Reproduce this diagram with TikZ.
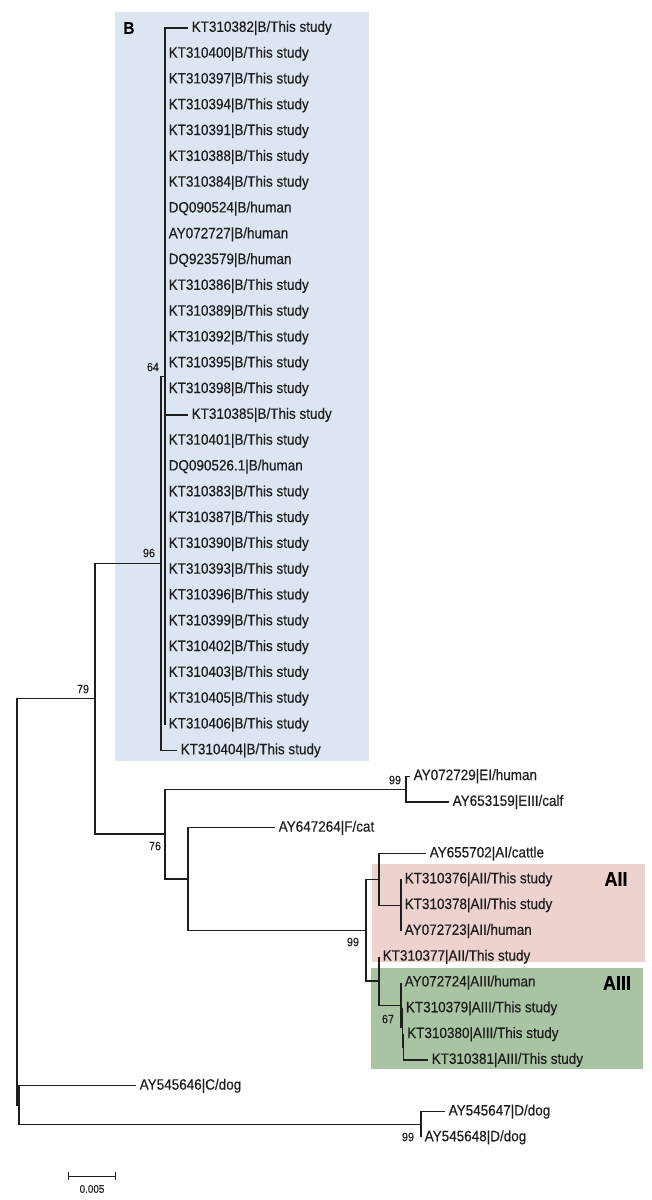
\documentclass[tikz,border=0pt]{standalone}
\usepackage{fontspec}
\setmainfont[FakeStretch=0.9,FakeBold=0.3]{Liberation Sans}
\definecolor{treeline}{HTML}{1E1E1E}
\definecolor{cladeB}{HTML}{DCE6F2}
\definecolor{cladeAII}{HTML}{EDD2CD}
\definecolor{cladeAIII}{HTML}{A9C4A3}

\begin{document}
\begin{tikzpicture}[x=1pt,y=-1pt]
    \tikzstyle{branch}=[draw=treeline,line width=1.1pt]
    \tikzstyle{leaf}=[anchor=west,inner xsep=3.5pt,inner ysep=0pt,text=treeline,font=\fontsize{15}{15}\selectfont]
    \tikzstyle{boot}=[inner sep=0pt,text=treeline,font=\fontsize{12}{12}\selectfont]
    \tikzstyle{clade}=[inner sep=0pt,text=black,font=\fontsize{20}{20}\selectfont\bfseries]

    \useasboundingbox[fill=white] (0,0) rectangle (651,1200);

    % shaded clades
    \fill[cladeB] (115,12) rectangle (369,761);
    \fill[cladeAII] (372,864) rectangle (645,962);
    \fill[cladeAIII] (371,968) rectangle (643,1069);
    \node[clade,font=\fontsize{17}{17}\selectfont\bfseries] (labB) at (129,28) {B};
    \node[clade] (labAII) at (616,879) {AII};
    \node[clade] (labAIII) at (617,983) {AIII};

    % internal nodes
    \coordinate (root) at (17,902);
    \coordinate (n79) at (95,698.7);
    \coordinate (n96) at (161,563.4);
    \coordinate (n64) at (165,376.3);
    \coordinate (n76) at (165,834);
    \coordinate (nE) at (406,789.1);
    \coordinate (nFA) at (188,879);
    \coordinate (n99) at (366,930.2);
    \coordinate (nAI) at (379,879.4);
    \coordinate (nAII) at (401,905.2);
    \coordinate (nA3) at (379,981);
    \coordinate (n67) at (401,1005.2);
    \coordinate (nb) at (402.2,1027.8);
    \coordinate (nc) at (403.5,1047.1);
    \coordinate (nCD) at (19,1105.2);
    \coordinate (nD) at (421,1124.5);

    % leaves, clade B
    \node[leaf] (kt382) at (188,28) {KT310382|B/This study};
    \node[leaf] (kt400) at (165,53.8) {KT310400|B/This study};
    \node[leaf] (kt397) at (165,79.6) {KT310397|B/This study};
    \node[leaf] (kt394) at (165,105.4) {KT310394|B/This study};
    \node[leaf] (kt391) at (165,131.2) {KT310391|B/This study};
    \node[leaf] (kt388) at (165,157) {KT310388|B/This study};
    \node[leaf] (kt384) at (165,182.8) {KT310384|B/This study};
    \node[leaf] (dq524) at (165,208.6) {DQ090524|B/human};
    \node[leaf] (ay727) at (165,234.4) {AY072727|B/human};
    \node[leaf] (dq579) at (165,260.2) {DQ923579|B/human};
    \node[leaf] (kt386) at (165,286) {KT310386|B/This study};
    \node[leaf] (kt389) at (165,311.8) {KT310389|B/This study};
    \node[leaf] (kt392) at (165,337.6) {KT310392|B/This study};
    \node[leaf] (kt395) at (165,363.4) {KT310395|B/This study};
    \node[leaf] (kt398) at (165,389.2) {KT310398|B/This study};
    \node[leaf] (kt385) at (188,415) {KT310385|B/This study};
    \node[leaf] (kt401) at (165,440.8) {KT310401|B/This study};
    \node[leaf] (dq526) at (165,466.6) {DQ090526.1|B/human};
    \node[leaf] (kt383) at (165,492.4) {KT310383|B/This study};
    \node[leaf] (kt387) at (165,518.2) {KT310387|B/This study};
    \node[leaf] (kt390) at (165,544) {KT310390|B/This study};
    \node[leaf] (kt393) at (165,569.8) {KT310393|B/This study};
    \node[leaf] (kt396) at (165,595.6) {KT310396|B/This study};
    \node[leaf] (kt399) at (165,621.4) {KT310399|B/This study};
    \node[leaf] (kt402) at (165,647.2) {KT310402|B/This study};
    \node[leaf] (kt403) at (165,673) {KT310403|B/This study};
    \node[leaf] (kt405) at (165,698.8) {KT310405|B/This study};
    \node[leaf] (kt406) at (165,724.6) {KT310406|B/This study};
    \node[leaf] (kt404) at (177,750.4) {KT310404|B/This study};

    % leaves, other assemblages
    \node[leaf] (ay729) at (410,776.2) {AY072729|EI/human};
    \node[leaf] (ay159) at (449,802) {AY653159|EIII/calf};
    \node[leaf] (ay264) at (275,827.8) {AY647264|F/cat};
    \node[leaf] (ay702) at (426,853.6) {AY655702|AI/cattle};
    \node[leaf] (kt376) at (401,879.4) {KT310376|AII/This study};
    \node[leaf] (kt378) at (401,905.2) {KT310378|AII/This study};
    \node[leaf] (ay723) at (401,931) {AY072723|AII/human};
    \node[leaf] (kt377) at (379,956.8) {KT310377|AII/This study};
    \node[leaf] (ay724) at (401,982.6) {AY072724|AIII/human};
    \node[leaf] (kt379) at (402.2,1008.4) {KT310379|AIII/This study};
    \node[leaf] (kt380) at (403.5,1034.2) {KT310380|AIII/This study};
    \node[leaf] (kt381) at (428,1060) {KT310381|AIII/This study};
    \node[leaf] (ay646) at (136,1085.8) {AY545646|C/dog};
    \node[leaf] (ay647) at (445,1111.6) {AY545647|D/dog};
    \node[leaf] (ay648) at (421,1137.4) {AY545648|D/dog};

    % branches
    \draw[branch] (root) |- (n79) (root) |- (nCD);
    \draw[branch] (n79) |- (n96) (n79) |- (n76);
    \draw[branch] (n96) |- (n64) (n96) |- (kt404.west);
    \foreach \lf in {kt382,kt400,kt397,kt394,kt391,kt388,kt384,dq524,ay727,dq579,kt386,kt389,kt392,kt395,kt398,kt385,kt401,dq526,kt383,kt387,kt390,kt393,kt396,kt399,kt402,kt403,kt405,kt406}
        \draw[branch] (n64) |- (\lf.west);
    \draw[branch] (n76) |- (nE) (n76) |- (nFA);
    \draw[branch] (nE) |- (ay729.west) (nE) |- (ay159.west);
    \draw[branch] (nFA) |- (ay264.west) (nFA) |- (n99);
    \draw[branch] (n99) |- (nAI) (n99) |- (nA3);
    \draw[branch] (nAI) |- (ay702.west) (nAI) |- (nAII);
    \draw[branch] (nAII) |- (kt376.west) (nAII) |- (ay723.west);
    \draw[branch] (nA3) |- (kt377.west) (nA3) |- (n67);
    \draw[branch] (n67) |- (ay724.west) (n67) |- (nb);
    \draw[branch] (nb) |- (kt379.west) (nb) |- (nc);
    \draw[branch] (nc) |- (kt380.west) (nc) |- (kt381.west);
    \draw[branch] (nCD) |- (ay646.west) (nCD) |- (nD);
    \draw[branch] (nD) |- (ay647.west) (nD) |- (ay648.west);

    % bootstrap values
    \node[boot] (bs64) at (153,367) {64};
    \node[boot] (bs96) at (149,553) {96};
    \node[boot] (bs79) at (83,689) {79};
    \node[boot] (bs76) at (155,846) {76};
    \node[boot] (bsE) at (395,780) {99};
    \node[boot] (bsA) at (353,942) {99};
    \node[boot] (bs67) at (388,1019) {67};
    \node[boot] (bsD) at (408,1137) {99};

    % scale bar
    \coordinate (sb1) at (68,1176);
    \coordinate (sb2) at (116,1176);
    \draw[draw=treeline,line width=0.9pt,|-|] (sb1) -- (sb2);
    \node[boot,font=\fontsize{11}{11}\selectfont] (sblab) at (92,1189) {0.005};
\end{tikzpicture}
\end{document}
